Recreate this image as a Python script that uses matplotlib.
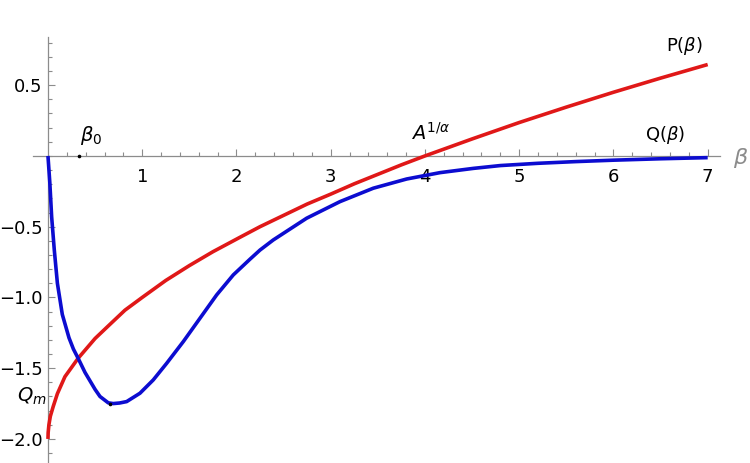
import numpy as np
import matplotlib.pyplot as plt
from matplotlib.ticker import FixedLocator

# values
beta_p = [0, 0.002, 0.01, 0.025, 0.056, 0.1, 0.18, 0.32, 0.5, 0.65, 0.817,
          1.0, 1.25, 1.5, 1.75, 2.037, 2.25, 2.5, 2.75, 3.0, 3.25, 3.5, 3.75,
          4.0, 4.5, 5.0, 5.5, 6.0, 6.5, 7.0]
p_vals = [-2.0, -1.955, -1.90, -1.84, -1.77, -1.68, -1.56, -1.43, -1.29,
          -1.195, -1.09, -1.0, -0.88, -0.775, -0.677, -0.575, -0.50, -0.42,
          -0.34, -0.27, -0.197, -0.13, -0.063, 0.0, 0.12, 0.236, 0.345,
          0.45, 0.55, 0.646]

beta_q = [0, 0.02, 0.039, 0.067, 0.10, 0.152, 0.223, 0.27, 0.32, 0.393,
          0.50, 0.552, 0.64, 0.693, 0.76, 0.835, 0.976, 1.117, 1.26, 1.436,
          1.613, 1.79, 1.966, 2.143, 2.25, 2.39, 2.745, 3.098, 3.452, 3.806,
          4.16, 4.513, 4.80, 5.2, 5.6, 6.0, 6.5, 7.0]
q_vals = [0, -0.193, -0.43, -0.664, -0.90, -1.12, -1.285, -1.365, -1.43,
          -1.53, -1.65, -1.70, -1.745, -1.750, -1.746, -1.736, -1.677,
          -1.583, -1.465, -1.312, -1.147, -0.982, -0.841, -0.73, -0.665,
          -0.594, -0.44, -0.323, -0.228, -0.163, -0.118, -0.088, -0.068,
          -0.052, -0.04, -0.03, -0.02, -0.012]

x_major = [1, 2, 3, 4, 5, 6, 7]
y_major = [0.5, -0.5, -1.0, -1.5, -2.0]
y_labels = ['0.5', '\u22120.5', '\u22121.0', '\u22121.5', '\u22122.0']

fig = plt.figure(figsize=(7.5, 4.63), dpi=100)
ax = fig.add_axes([0, 0, 1, 1])

ax.plot(beta_p, p_vals, color='#e01818', lw=2.6, zorder=3,
        solid_capstyle='butt', solid_joinstyle='round')
ax.plot(beta_q, q_vals, color='#0c0cd0', lw=2.6, zorder=4,
        solid_capstyle='butt', solid_joinstyle='round')
# small markers (beta_0 and Q_m)
ax.plot([0.33], [0], 'o', color='k', ms=1.6, zorder=5)
ax.plot([0.66], [-1.755], 'o', color='k', ms=1.6, zorder=5)

ax.set_xlim(-0.509, 7.449)
ax.set_ylim(-2.170, 1.102)

for s in ['top', 'right']:
    ax.spines[s].set_visible(False)
ax.spines['left'].set_position(('data', 0))
ax.spines['bottom'].set_position(('data', 0))
ax.spines['left'].set_bounds(-2.17, 0.84)
ax.spines['bottom'].set_bounds(-0.16, 7.13)
for s in ['left', 'bottom']:
    ax.spines[s].set_color('#8c8c8c')
    ax.spines[s].set_linewidth(0.9)

ax.xaxis.set_major_locator(FixedLocator(x_major))
ax.xaxis.set_minor_locator(FixedLocator(np.arange(0.2, 7.01, 0.2)))
ax.set_xticklabels([str(v) for v in x_major])
ax.yaxis.set_major_locator(FixedLocator(y_major))
ax.yaxis.set_minor_locator(FixedLocator(np.arange(-2.1, 0.81, 0.1)))
ax.set_yticklabels(y_labels)

ax.tick_params(which='both', direction='in', color='#8c8c8c', width=0.8,
               labelsize=13, labelcolor='black')
ax.tick_params(which='major', length=5)
ax.tick_params(which='minor', length=3.2)
ax.tick_params(axis='x', which='major', pad=9)
ax.tick_params(axis='y', which='major', pad=4)

ax.text(6.75, 0.777, r'P($\beta$)', fontsize=13, ha='center', va='center')
ax.text(6.55, 0.148, r'Q($\beta$)', fontsize=13, ha='center', va='center')
ax.text(0.34, 0.145, r'$\beta_0$', fontsize=14, ha='left', va='center')
ax.text(4.06, 0.165, r'$A^{1/\alpha}$', fontsize=14, ha='center', va='center')
ax.text(-0.01, -1.70, r'$Q_m$', fontsize=14, ha='right', va='center')
ax.text(7.35, -0.014, r'$\beta$', fontsize=16, color='#8c8c8c',
        ha='center', va='center')

fig.savefig('out.png', dpi=100)
